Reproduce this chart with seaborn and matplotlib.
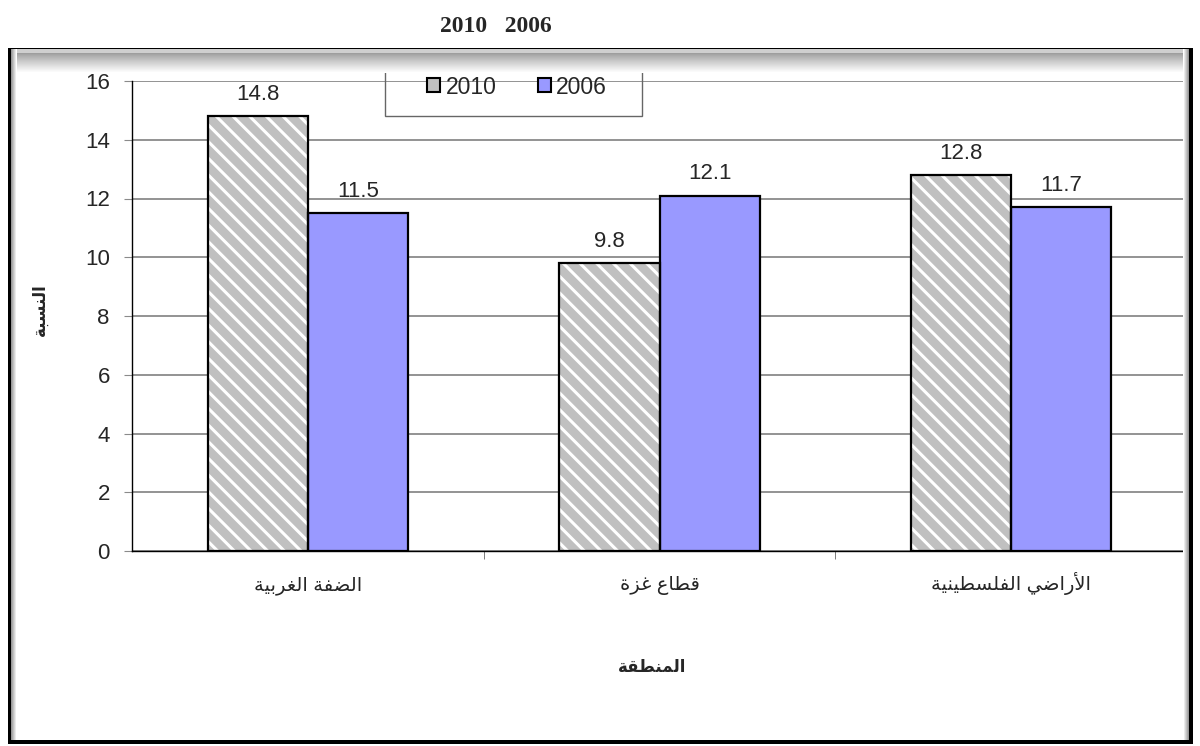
import matplotlib
matplotlib.use('Agg')
import matplotlib.pyplot as plt
import seaborn as sns
import pandas as pd
from matplotlib.patches import Rectangle, Patch

# Datos
regiones = ['الضفة الغربية', 'قطاع غزة', 'الأراضي الفلسطينية']
anios = ['2010', '2006']
valores_2010 = [14.8, 9.8, 12.8]
valores_2006 = [11.5, 12.1, 11.7]
ticks_y = [0, 2, 4, 6, 8, 10, 12, 14, 16]
titulo = '2010   2006'
titulo_x = 'المنطقة'
titulo_y = 'النسبة'
colores = {'2010': '#C0C0C0', '2006': '#9999FF'}

# Formas de presentación árabes (aislada, final, inicial, media)
FORMAS = {
    'ا': ('\uFE8D', '\uFE8E', None, None),
    'أ': ('\uFE83', '\uFE84', None, None),
    'ب': ('\uFE8F', '\uFE90', '\uFE91', '\uFE92'),
    'ة': ('\uFE93', '\uFE94', None, None),
    'ر': ('\uFEAD', '\uFEAE', None, None),
    'ز': ('\uFEAF', '\uFEB0', None, None),
    'س': ('\uFEB1', '\uFEB2', '\uFEB3', '\uFEB4'),
    'ض': ('\uFEBD', '\uFEBE', '\uFEBF', '\uFEC0'),
    'ط': ('\uFEC1', '\uFEC2', '\uFEC3', '\uFEC4'),
    'ع': ('\uFEC9', '\uFECA', '\uFECB', '\uFECC'),
    'غ': ('\uFECD', '\uFECE', '\uFECF', '\uFED0'),
    'ف': ('\uFED1', '\uFED2', '\uFED3', '\uFED4'),
    'ق': ('\uFED5', '\uFED6', '\uFED7', '\uFED8'),
    'ل': ('\uFEDD', '\uFEDE', '\uFEDF', '\uFEE0'),
    'م': ('\uFEE1', '\uFEE2', '\uFEE3', '\uFEE4'),
    'ن': ('\uFEE5', '\uFEE6', '\uFEE7', '\uFEE8'),
    'ي': ('\uFEF1', '\uFEF2', '\uFEF3', '\uFEF4'),
}
LAM_ALEF = {'ا': ('\uFEFB', '\uFEFC'), 'أ': ('\uFEF7', '\uFEF8')}


def une_siguiente(c):
    return c in FORMAS and FORMAS[c][2] is not None


def arabe(texto):
    res = []
    i = 0
    n = len(texto)
    while i < n:
        c = texto[i]
        if c not in FORMAS:
            res.append(c)
            i += 1
            continue
        prev = texto[i - 1] if i > 0 else ''
        con_prev = une_siguiente(prev)
        if c == 'ل' and i + 1 < n and texto[i + 1] in LAM_ALEF:
            res.append(LAM_ALEF[texto[i + 1]][1 if con_prev else 0])
            i += 2
            continue
        sig = texto[i + 1] if i + 1 < n else ''
        con_sig = une_siguiente(c) and sig in FORMAS
        iso, fin, ini, med = FORMAS[c]
        if con_prev and con_sig:
            res.append(med)
        elif con_prev:
            res.append(fin)
        elif con_sig:
            res.append(ini)
        else:
            res.append(iso)
        i += 1
    return ''.join(reversed(res))


regiones_fmt = [arabe(r) for r in regiones]
df = pd.DataFrame({
    'region': regiones_fmt * 2,
    'anio': ['2010'] * 3 + ['2006'] * 3,
    'valor': valores_2010 + valores_2006,
})

sns.set_style('white')
plt.rcParams['font.family'] = ['Liberation Sans', 'DejaVu Sans']
plt.rcParams['hatch.linewidth'] = 2.2

W, H = 1200, 746
fig = plt.figure(figsize=(12, 7.46), dpi=100)
ax = fig.add_axes([132 / W, 1 - 551 / H, (1187 - 132) / W, (551 - 81) / H])

sns.barplot(data=df, x='region', y='valor', hue='anio', order=regiones_fmt,
            hue_order=anios, palette=colores, width=0.57, gap=0,
            saturation=1, edgecolor='black', linewidth=1.6, legend=False, ax=ax)

# Rayado de las barras 2010
for barra in ax.containers[0]:
    barra.set_hatch('\\\\')
    barra.set_edgecolor('white')
    barra.set_linewidth(0)
    ax.add_patch(Rectangle((barra.get_x(), barra.get_y()), barra.get_width(),
                           barra.get_height(), fill=False, edgecolor='black',
                           linewidth=1.6, zorder=barra.get_zorder() + 0.1))

for cont in ax.containers:
    ax.bar_label(cont, fmt='%.1f', padding=8, fontsize=16)

ax.set_xlim(-0.5, 2.5)
ax.set_ylim(0, 16)
ax.set_yticks(ticks_y)
ax.yaxis.grid(True, color='#8a8a8a', linewidth=1.3)
ax.set_axisbelow(True)
for s in ['top', 'right']:
    ax.spines[s].set_visible(False)
for s in ['left', 'bottom']:
    ax.spines[s].set_color('black')
    ax.spines[s].set_linewidth(1.0)

ax.tick_params(axis='y', direction='out', length=6, color='#8a8a8a',
               labelsize=16, pad=10, left=True)
ax.tick_params(axis='x', which='major', length=0, labelsize=14, pad=28)
for lbl in ax.get_xticklabels():
    lbl.set_va('baseline')
ax.set_xticks([0.5, 1.5], minor=True)
ax.tick_params(axis='x', which='minor', direction='out', length=6,
               color='#666666', bottom=True)

ax.set_xlabel(arabe(titulo_x), fontsize=12, fontweight='bold')
ax.set_ylabel(arabe(titulo_y), fontsize=12, fontweight='bold')
ax.xaxis.label.set_va('center')
ax.yaxis.label.set_va('center')
ax.xaxis.set_label_coords((652 - 132) / 1055, (551 - 667) / 470)
ax.yaxis.set_label_coords((40 - 132) / 1055, (551 - 310) / 470)

# Leyenda
manejadores = [Patch(facecolor=colores[a], edgecolor='black', linewidth=1.5) for a in anios]
ax.legend(manejadores, anios, loc='center', bbox_to_anchor=(517 / W, 1 - 87 / H),
          bbox_transform=fig.transFigure, ncol=2, frameon=False, fontsize=16.5,
          handlelength=0.57, handleheight=0.57, handletextpad=0.22, columnspacing=1.8)


def rect_px(x0, y0, x1, y1, color, z=3, fill=True, lw=0):
    fig.add_artist(Rectangle((x0 / W, 1 - y1 / H), (x1 - x0) / W, (y1 - y0) / H,
                             transform=fig.transFigure, facecolor=color if fill else 'none',
                             edgecolor='none' if fill else color, linewidth=lw, zorder=z))


# Caja de la leyenda
rect_px(385, 50, 642, 116, '#666666', z=1, fill=False, lw=1)

# Marco con sombra
for d in range(20):
    g = 0.62 + 0.38 * (d / 19) ** 0.9
    rect_px(10, 53 + d, 1189, 54 + d, (g, g, g))
rect_px(10, 49, 1189, 53, '#cfcfcf')
for d in range(6):
    g = 0.6 + 0.4 * (d / 5)
    rect_px(11 + d, 49, 12 + d, 740, (g, g, g))
    rect_px(1188 - d, 49, 1189 - d, 740, (g, g, g))
rect_px(8, 48, 1193, 49, 'black')
rect_px(8, 48, 11, 744, 'black')
rect_px(1189, 48, 1193, 744, 'black')
rect_px(8, 740, 1193, 744, 'black')

fig.text(496 / W, 1 - 27 / H, titulo, ha='center', va='center', fontsize=17,
         fontweight='bold', family='Liberation Serif')

plt.savefig('out.png', dpi=100)
